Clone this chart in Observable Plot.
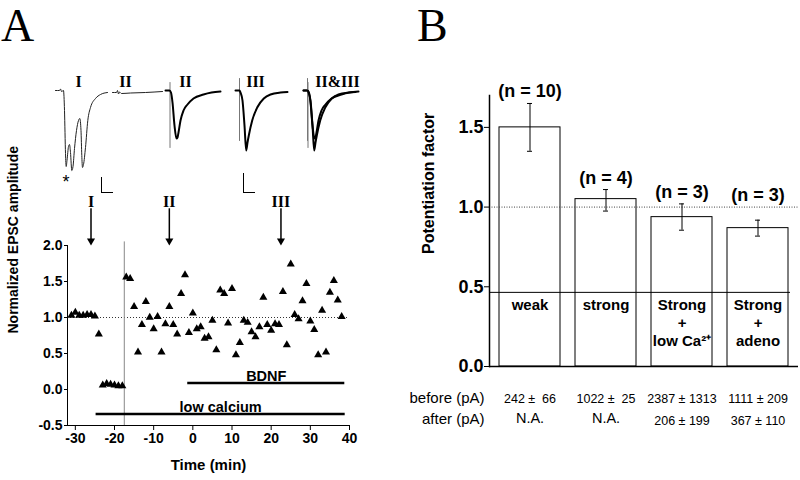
<!DOCTYPE html>
<html><head><meta charset="utf-8">
<script src="https://cdn.jsdelivr.net/npm/d3@7"></script>
<script src="https://cdn.jsdelivr.net/npm/@observablehq/plot@0.6"></script>
<style>
body{margin:0;background:#fff;}
#root{position:relative;width:800px;height:480px;overflow:hidden;background:#fff;}
#root svg{position:absolute;top:0;}
.letter{position:absolute;top:0px;font-family:"Liberation Serif","Times New Roman",serif;font-size:46px;line-height:51px;color:#000;}
</style></head><body><div id="root"></div>
<script>
// ---------- Panel A: time course ----------
const minutes = [-31,-30,-29,-28,-27,-26,-25,-24,-23,-22,-21,-20,-19,-18,-17,-16,-15,-14,-13,-12,-11,-10,-9,-8,-7,-6,-5,-4,-3,-2,-1,0,1,2,3,4,5,6,7,8,9,10,11,12,13,14,15,16,17,18,19,20,21,22,23,24,25,26,27,28,29,30,31,32,33,34,35,36,37,38];
const amplitude = [1.03,1.07,1.03,1.03,1.04,1.04,1.02,0.77,0.06,0.08,0.07,0.06,0.05,0.05,1.56,1.54,1.15,0.52,0.90,1.22,1.00,0.84,1.01,0.52,0.91,1.15,0.90,0.77,1.33,1.59,0.79,1.06,0.84,0.87,0.71,0.73,0.96,0.55,1.38,1.33,0.92,1.40,0.48,0.65,0.96,0.93,0.80,0.73,0.87,1.28,0.90,0.82,0.91,0.90,1.36,0.62,1.74,1.04,0.98,1.23,1.47,0.95,0.83,0.48,1.10,0.52,1.35,1.51,1.24,1.01];
const xTicksA = [-30,-20,-10,0,10,20,30,40];
const yTicksA = [-0.5,0,0.5,1.0,1.5,2.0];
const treatmentNames = ["BDNF","low calcium"];
const treatmentStart = [-1.3,-24.7];
const treatmentEnd = [38.8,38.9];
const treatmentLevel = [0.09,-0.34];
const sampleTimes = [-26,-6,22.5];
const sampleNames = ["I","II","III"];
const solutionChange = [-17.5];

// ---------- Panel A: example traces (time, current; arbitrary units) ----------
const traceI = [[0,0],[4,0],[5,1.5],[6,-1],[8,0],[9,-20],[10,-63],[10.7,-76],[11.5,-70],[13,-56],[14,-54],[15,-62],[16.3,-80],[17.5,-76],[19,-58],[21,-40],[23,-30],[24.3,-28],[25.5,-40],[26.3,-65],[27,-77],[28,-74],[30,-57],[32.3,-30],[35,-17],[40,-8],[45,-4],[52,-2]];
const traceIIfail = [[0,-2],[4,-2],[5,0],[6,-3.5],[7,-1.5],[9,-3],[18,-2.5],[33,-2],[50,-1]];
const traceII = [[0,0],[4,0],[5.5,-2],[7,-12],[9,-35],[11,-48],[12,-47],[13,-42],[15,-30],[18,-20],[22,-14],[28,-8],[38,-4],[46,-2],[55,-1]];
const traceIII = [[0,0],[4,0],[5,-2],[7,-10],[9,-35],[10.7,-60],[12,-52],[13.3,-45],[16.7,-30],[21.7,-17],[28.3,-8],[35,-4],[45,-2],[52,-1.5]];
const artifactII = [[4.5,8],[4.5,-57]];
const artifactIII = [[4,12],[4,-50]];
const traceLabels = ["I","II","II","III","II&III"];

// ---------- Panel B ----------
const conditions = ["weak","strong","Strong\n+\nlow Ca²⁺","Strong\n+\nadeno"];
const potentiation = [1.50,1.05,0.937,0.868];
const errLow = [1.35,0.975,0.855,0.818];
const errHigh = [1.65,1.11,1.02,0.918];
const nLabels = ["(n = 10)","(n = 4)","(n = 3)","(n = 3)"];
const beforePA = ["242 ±  66","1022 ±  25","2387 ± 1313","1111 ± 209"];
const afterPA = ["N.A.","N.A.","206 ± 199","367 ± 110"];
const yTicksB = [0,0.5,1.0,1.5];

const root = document.getElementById("root");
const sans = "'Liberation Sans', Arial, Helvetica, sans-serif";
const serif = "'Liberation Serif', 'Times New Roman', serif";

// layout of trace snippets (start position on the trace time axis, label offset)
const slots = [
  {trace: traceI, start: 55, label: 23, w: 1, c: "#222"},
  {trace: traceIIfail, start: 112, label: 13, w: 1, c: "#222"},
  {trace: traceII, start: 165, label: 20, w: 2, c: "#000", art: artifactII},
  {trace: traceIII, start: 235, label: 20, w: 2, c: "#000", art: artifactIII},
  {trace: traceII, start: 303, label: 34, w: 2, c: "#000", art: artifactII},
  {trace: traceIII, start: 303, label: null, w: 2, c: "#000", art: artifactIII}
];
const traceMarks = [];
slots.forEach((s) => {
  if (s.art) traceMarks.push(Plot.line(s.art, {x: d => s.start + d[0], y: d => d[1], stroke: "#777", strokeWidth: 1}));
  traceMarks.push(Plot.line(s.trace, {x: d => s.start + d[0], y: d => d[1], stroke: s.c, strokeWidth: s.w, curve: "monotone-x"}));
});
const labelRows = slots.filter(s => s.label != null).map((s, i) => ({x: s.start + s.label, t: traceLabels[i]}));
const scaleBars = [{x: 101, top: -87, bottom: -102, len: 12}, {x: 243, top: -83, bottom: -102, len: 12}];

const traces = Plot.plot({
  width: 400, height: 240, margin: 0,
  style: {background: "transparent", overflow: "visible"},
  x: {domain: [0, 400], axis: null},
  y: {domain: [-150, 90], axis: null},
  marks: [
    ...traceMarks,
    Plot.text(labelRows, {x: "x", y: 9, text: "t", fontFamily: serif, fontWeight: "bold", fontSize: 16}),
    Plot.text(["*"], {x: 65.5, y: -92, text: d => d, fontFamily: sans, fontSize: 18}),
    Plot.ruleX(scaleBars, {x: "x", y1: "top", y2: "bottom", stroke: "#000"}),
    Plot.ruleY(scaleBars, {y: "bottom", x1: "x", x2: d => d.x + d.len, stroke: "#000"})
  ]
});
traces.style.left = "0px";

const pts = minutes.map((m, i) => ({t: m, a: amplitude[i]}));
const treatments = treatmentNames.map((n, i) => ({name: n, x1: treatmentStart[i], x2: treatmentEnd[i], y: treatmentLevel[i]}));

const scatter = Plot.plot({
  width: 400, height: 480,
  marginLeft: 67, marginRight: 51, marginTop: 245, marginBottom: 55,
  style: {background: "transparent", overflow: "visible", fontFamily: sans, fontSize: "14px", fontWeight: "bold", color: "#000"},
  x: {domain: [-32, 40], ticks: xTicksA, tickSize: 5, tickPadding: 3, tickFormat: d => String(d), label: null},
  y: {domain: [-0.5, 2.0], ticks: yTicksA, tickSize: 3, tickPadding: 2, tickFormat: d => d.toFixed(1), label: null},
  marks: [
    Plot.ruleY([1], {x1: -32, x2: 39.5, stroke: "#333", strokeWidth: 1, strokeDasharray: "1,2"}),
    Plot.ruleX(solutionChange, {y1: -0.5, y2: 2.05, stroke: "#888", strokeWidth: 1}),
    Plot.ruleX([-32], {stroke: "#000"}),
    Plot.ruleY([-0.5], {stroke: "#000"}),
    Plot.ruleY(treatments, {y: "y", x1: "x1", x2: "x2", stroke: "#000", strokeWidth: 2.5}),
    Plot.text(treatments, {x: d => (d.x1 + d.x2) / 2, y: "y", text: "name", lineAnchor: "bottom", dy: -2, fontSize: 14.5}),
    Plot.dot(pts, {x: "t", y: "a", symbol: "triangle", r: 3, fill: "#000", stroke: "none"}),
    Plot.ruleX(sampleTimes, {y1: 2.51, y2: 2.08, stroke: "#000", strokeWidth: 1.5}),
    Plot.dot(sampleTimes, {x: d => d, y: 2.065, symbol: "triangle", rotate: 180, r: 3, fill: "#000", stroke: "none"}),
    Plot.text(sampleTimes, {x: d => d, y: 2.6, text: (d, i) => sampleNames[i], fontFamily: serif, fontSize: 16, fontWeight: "bold"}),
    Plot.text(["Normalized EPSC amplitude"], {frameAnchor: "left", rotate: -90, dx: -54, dy: -2, text: d => d, fontSize: 14}),
    Plot.text(["Time (min)"], {frameAnchor: "bottom", dy: 44, text: d => d, fontSize: 15})
  ]
});
scatter.style.left = "0px";

const rows = conditions.map((c, i) => ({cond: c, value: potentiation[i], lo: errLow[i], hi: errHigh[i], n: nLabels[i], before: beforePA[i], after: afterPA[i]}));

const bars = Plot.plot({
  width: 400, height: 480,
  marginLeft: 89, marginRight: 2, marginTop: 95, marginBottom: 114,
  style: {background: "transparent", overflow: "visible", fontFamily: sans, fontSize: "18px", fontWeight: "bold", color: "#000"},
  x: {domain: conditions, paddingInner: 0.195, paddingOuter: 0.104, axis: null},
  y: {domain: [0, 1.7], ticks: yTicksB, tickSize: 5, tickPadding: 1, tickFormat: d => d.toFixed(1), label: null},
  marks: [
    Plot.barY(rows, {x: "cond", y: "value", fill: "white", stroke: "#000", strokeWidth: 1}),
    Plot.ruleY([1], {stroke: "#444", strokeWidth: 1, strokeDasharray: "1,1.5"}),
    Plot.ruleY([0.465], {stroke: "#000", strokeWidth: 1, insetRight: 8}),
    Plot.ruleY([0], {stroke: "#000", strokeWidth: 1.5}),
    Plot.frame({anchor: "left", stroke: "#000", strokeWidth: 1.5}),
    Plot.ruleX(rows, {x: "cond", y1: "lo", y2: "hi", stroke: "#000", strokeWidth: 1}),
    Plot.tickY(rows, {x: "cond", y: "lo", insetLeft: 28, insetRight: 28, stroke: "#000", strokeWidth: 1}),
    Plot.tickY(rows, {x: "cond", y: "hi", insetLeft: 28, insetRight: 28, stroke: "#000", strokeWidth: 1}),
    Plot.text(rows, {x: "cond", y: d => Math.max(d.hi, 1), text: "n", lineAnchor: "bottom", dy: -6, fontSize: 18}),
    Plot.text(rows, {x: "cond", y: 0.436, text: "cond", lineAnchor: "top", lineHeight: 1.2, fontSize: 15}),
    Plot.text(rows, {x: "cond", text: "before", frameAnchor: "bottom", dy: 36, fontSize: 12.5, fontWeight: "normal"}),
    Plot.text(rows.filter(r => r.after === "N.A."), {x: "cond", text: "after", frameAnchor: "bottom", dy: 56, fontSize: 14.5, fontWeight: "normal"}),
    Plot.text(rows.filter(r => r.after !== "N.A."), {x: "cond", text: "after", frameAnchor: "bottom", dy: 58, fontSize: 12.5, fontWeight: "normal"}),
    Plot.text(["before (pA)"], {frameAnchor: "bottom-left", dx: -5, dy: 36, textAnchor: "end", text: d => d, fontSize: 15, fontWeight: "normal"}),
    Plot.text(["after (pA)"], {frameAnchor: "bottom-left", dx: -5, dy: 57, textAnchor: "end", text: d => d, fontSize: 15, fontWeight: "normal"}),
    Plot.text(["Potentiation factor"], {frameAnchor: "left", rotate: -90, dx: -61, dy: 23, text: d => d, fontSize: 16})
  ]
});
bars.style.left = "400px";

root.append(traces, scatter, bars);
const la = document.createElement("div"); la.className = "letter"; la.style.left = "1px"; la.textContent = "A";
const lb = document.createElement("div"); lb.className = "letter"; lb.style.left = "417px"; lb.textContent = "B";
root.append(la, lb);
</script>
</body></html>
